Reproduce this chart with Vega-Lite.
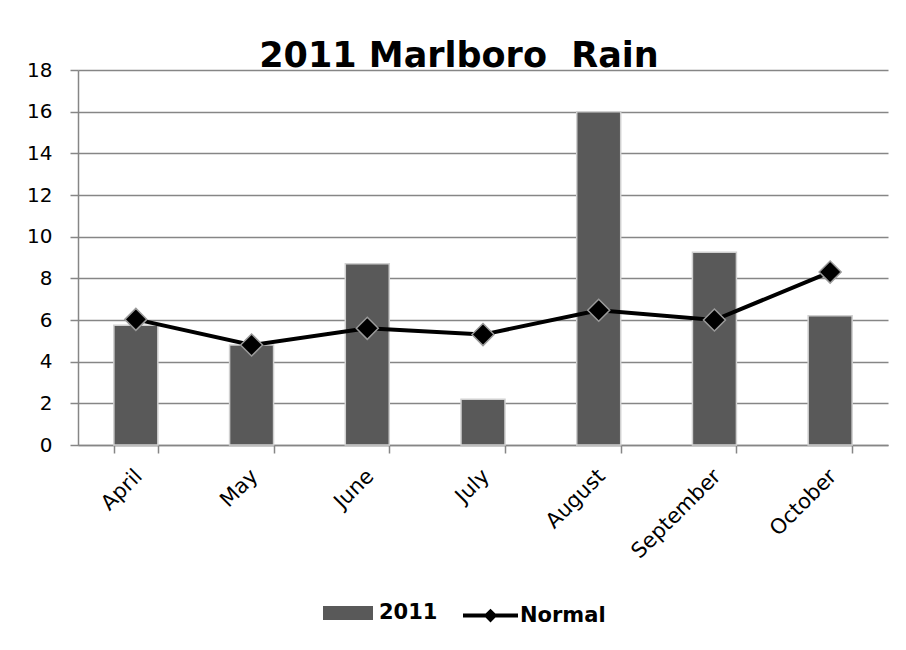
{
  "$schema": "https://vega.github.io/schema/vega-lite/v6.json",
  "autosize": {"type": "none"},
  "padding": {"left": 78, "top": 70, "right": 18, "bottom": 205},
  "width": 810,
  "height": 375,
  "background": "white",
  "title": {
    "text": "2011 Marlboro\u00a0 Rain",
    "font": "DejaVu Sans",
    "fontSize": 35,
    "fontWeight": "bold",
    "color": "black",
    "anchor": "middle",
    "dx": -24,
    "dy": 46,
    "baseline": "alphabetic",
    "offset": 4
  },
  "data": {
    "values": [
      {"month": "April", "rain": 5.75, "normal": 6.03},
      {"month": "May", "rain": 4.8, "normal": 4.8},
      {"month": "June", "rain": 8.7, "normal": 5.6},
      {"month": "July", "rain": 2.2, "normal": 5.3},
      {"month": "August", "rain": 16.0, "normal": 6.47},
      {"month": "September", "rain": 9.25, "normal": 6.0},
      {"month": "October", "rain": 6.2, "normal": 8.3}
    ]
  },
  "encoding": {
    "x": {
      "field": "month",
      "type": "nominal",
      "sort": null,
      "scale": {"paddingInner": 0.62, "paddingOuter": 0.31},
      "axis": {
        "title": null,
        "tickBand": "extent",
        "tickSize": 8,
        "tickColor": "#868686",
        "tickWidth": 1.5,
        "domainColor": "#868686",
        "domainWidth": 1.5,
        "labelAngle": -45,
        "labelFont": "DejaVu Sans",
        "labelFontSize": 21,
        "labelColor": "black",
        "labelPadding": 12,
        "labelOffset": -5,
        "grid": false
      }
    }
  },
  "layer": [
    {
      "mark": {"type": "bar", "stroke": "#d0d0d0", "strokeWidth": 1.5},
      "encoding": {
        "y": {
          "field": "rain",
          "type": "quantitative",
          "scale": {"domain": [0, 18], "nice": false},
          "axis": {
            "title": null,
            "values": [0, 2, 4, 6, 8, 10, 12, 14, 16, 18],
            "tickSize": 8,
            "tickColor": "#868686",
            "tickWidth": 1.5,
            "domainColor": "#868686",
            "domainWidth": 1.5,
            "gridColor": "#868686",
            "gridWidth": 1.5,
            "labelFont": "DejaVu Sans",
            "labelFontSize": 20,
            "labelColor": "black",
            "labelPadding": 18
          }
        },
        "fill": {
          "datum": "2011",
          "scale": {"domain": ["2011"], "range": ["#595959"]},
          "legend": {
            "title": null,
            "orient": "none",
            "legendX": 245,
            "legendY": 518,
            "padding": 0,
            "symbolType": "M-1,-0.28H1V0.28H-1Z",
            "symbolSize": 2500,
            "symbolStrokeWidth": 0,
            "labelFont": "DejaVu Sans",
            "labelFontSize": 21,
            "labelFontWeight": "bold",
            "labelColor": "black",
            "labelOffset": 6
          }
        }
      }
    },
    {
      "mark": {"type": "line", "strokeWidth": 4},
      "encoding": {
        "y": {"field": "normal", "type": "quantitative"},
        "stroke": {
          "datum": "Normal",
          "scale": {"domain": ["Normal"], "range": ["#000000"]},
          "legend": {
            "title": null,
            "orient": "none",
            "legendX": 385,
            "legendY": 518,
            "padding": 0,
            "symbolType": "M-1,-0.075H1V0.075H-1Z M0,-0.25L0.25,0L0,0.25L-0.25,0Z",
            "symbolSize": 3025,
            "labelFont": "DejaVu Sans",
            "labelFontSize": 21,
            "labelFontWeight": "bold",
            "labelColor": "black",
            "labelOffset": 2,
            "encode": {
              "symbols": {
                "update": {
                  "fill": {"value": "black"},
                  "stroke": {"value": "black"},
                  "strokeWidth": {"value": 0},
                  "opacity": {"value": 1}
                }
              }
            }
          }
        }
      }
    },
    {
      "mark": {"type": "point", "shape": "diamond", "size": 484, "filled": true, "fill": "black", "stroke": "#9a9a9a", "strokeWidth": 1.5, "opacity": 1},
      "encoding": {
        "y": {"field": "normal", "type": "quantitative"}
      }
    }
  ],
  "config": {
    "view": {"stroke": null}
  }
}
